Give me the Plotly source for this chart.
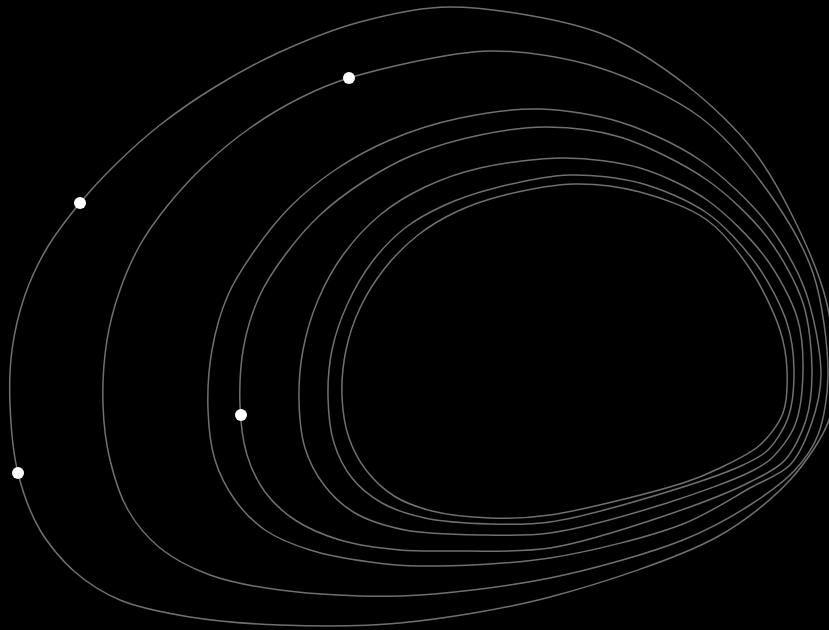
import plotly.graph_objects as go

# Ring anchor points (outermost -> innermost) (x right, y down)
ring1_x = [450, 600, 690, 753, 793, 826, 834, 829, 790, 717, 550, 400, 280, 190, 120, 75, 40, 18, 10, 12, 25, 47, 80, 115, 160, 215, 280, 360]
ring1_y = [7, 33, 88, 150, 217, 300, 370, 420, 480, 537, 597, 623, 625, 617, 600, 572, 530, 473, 405, 350, 295, 248, 203, 165, 125, 87, 52, 22]

ring2_x = [490, 600, 700, 767, 813, 828, 818, 795, 750, 683, 550, 400, 280, 210, 160, 128, 110, 103, 107, 120, 140, 168, 205, 250, 300, 349]
ring2_y = [51, 68, 117, 190, 273, 375, 435, 470, 505, 540, 578, 596, 590, 575, 548, 510, 460, 405, 340, 290, 245, 205, 165, 128, 98, 78]

ring3_x = [540, 620, 700, 767, 805, 821, 811, 790, 750, 683, 550, 420, 370, 310, 265, 235, 215, 208, 212, 228, 255, 290, 335, 390, 460]
ring3_y = [109, 122, 160, 223, 290, 375, 425, 465, 488, 524, 558, 566, 562, 550, 530, 500, 460, 410, 350, 295, 250, 207, 170, 140, 118]

ring4_x = [547, 620, 707, 767, 803, 812, 806, 785, 750, 667, 550, 450, 400, 340, 295, 265, 247, 240, 244, 260, 285, 320, 363, 413, 480]
ring4_y = [127, 137, 180, 237, 303, 370, 420, 460, 482, 515, 548, 551, 550, 540, 520, 492, 455, 405, 345, 295, 255, 215, 182, 155, 135]

ring5_x = [565, 640, 707, 765, 797, 803, 795, 772, 750, 667, 550, 480, 405, 355, 324, 305, 299, 303, 318, 343, 380, 425, 480]
ring5_y = [158, 168, 200, 257, 317, 370, 425, 458, 472, 503, 533, 535, 530, 513, 485, 448, 400, 350, 300, 255, 215, 187, 168]

ring6_x = [570, 640, 707, 757, 787, 794, 788, 768, 743, 667, 550, 490, 425, 382, 352, 334, 328, 332, 347, 372, 405, 445, 495]
ring6_y = [175, 183, 213, 265, 323, 370, 418, 450, 465, 492, 522, 524, 518, 503, 478, 443, 397, 350, 305, 262, 228, 205, 188]

ring7_x = [575, 640, 707, 752, 780, 787, 783, 760, 720, 683, 550, 490, 432, 394, 366, 349, 342, 346, 360, 385, 418, 458, 505]
ring7_y = [184, 192, 220, 272, 330, 370, 413, 445, 468, 483, 515, 518, 511, 496, 470, 438, 397, 350, 308, 268, 235, 211, 195]

rings = [
    (ring1_x, ring1_y), (ring2_x, ring2_y), (ring3_x, ring3_y), (ring4_x, ring4_y),
    (ring5_x, ring5_y), (ring6_x, ring6_y), (ring7_x, ring7_y),
]

dot_x = [80, 349, 241, 18]
dot_y = [203, 78, 415, 473]

fig = go.Figure()
for rx, ry in rings:
    fig.add_trace(go.Scatter(
        x=list(rx) + [rx[0]], y=list(ry) + [ry[0]],
        mode="lines",
        line=dict(color="rgb(112,112,110)", width=1.5, shape="spline", smoothing=0.9),
        hoverinfo="skip", showlegend=False,
    ))

fig.add_trace(go.Scatter(
    x=dot_x, y=dot_y, mode="markers",
    marker=dict(color="white", size=12, line=dict(width=0)),
    hoverinfo="skip", showlegend=False,
))

fig.update_layout(
    width=829, height=630,
    margin=dict(l=0, r=0, t=0, b=0),
    paper_bgcolor="black", plot_bgcolor="black",
    xaxis=dict(range=[0, 829], visible=False, fixedrange=True),
    yaxis=dict(range=[630, 0], visible=False, fixedrange=True),
)

fig.write_html(
    "out.html",
    config={"displayModeBar": False},
    post_script="document.body.style.margin='0';document.body.style.background='black';",
)
